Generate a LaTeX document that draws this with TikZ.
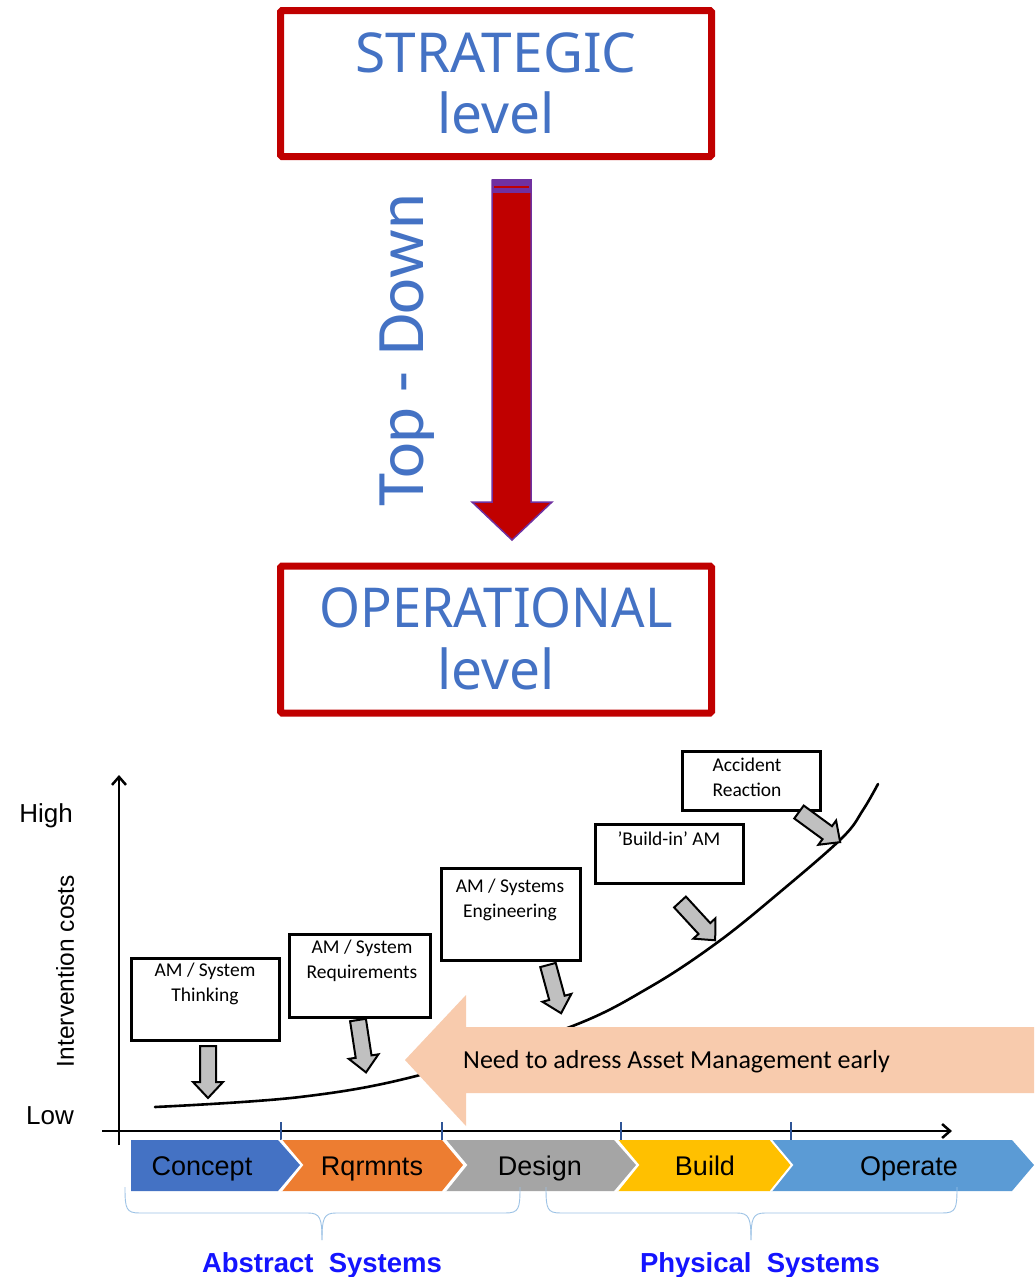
\documentclass[tikz,border=0pt]{standalone}
\usepackage{fontspec}
\setmainfont{Liberation Sans}
\newfontfamily\calib{Carlito}
\newfontfamily\notof{Noto Sans}
\usetikzlibrary{arrows.meta}
\definecolor{dred}{HTML}{C00000}
\definecolor{tblue}{HTML}{4472C4}
\definecolor{purp}{HTML}{7030A0}
\definecolor{peach}{HTML}{F8CBAD}
\definecolor{garr}{HTML}{C0C0C0}
\definecolor{cblue}{HTML}{4472C4}
\definecolor{corange}{HTML}{ED7D31}
\definecolor{cgray}{HTML}{A5A5A5}
\definecolor{cgold}{HTML}{FFC000}
\definecolor{clblue}{HTML}{5B9BD5}
\definecolor{brc}{HTML}{9DC3E6}
\definecolor{tickc}{HTML}{2F5597}
\definecolor{sysblue}{HTML}{1414FF}
\tikzset{
  levelbox/.style={draw=dred, line width=7pt, fill=white, rounded corners=1.5pt, anchor=north west, outer sep=0pt},
  leveltxt/.style={text=tblue, font=\notof\fontsize{55}{66}\selectfont, anchor=base, inner sep=0},
  stagebox/.style={draw=black, line width=3pt, fill=white, anchor=north west, outer sep=0pt},
  stagetxt/.style={font=\calib\fontsize{19.5}{24.5}\selectfont, align=center, anchor=north, inner sep=0},
  grayarr/.style={draw=black, line width=2pt, fill=garr, line join=miter},
  chev/.style={draw=white, line width=2pt},
  phasetxt/.style={font=\fontsize{27}{32}\selectfont, anchor=base, inner sep=0},
  brace/.style={draw=brc, line width=0.9pt},
  systxt/.style={font=\bfseries\fontsize{27.5}{32}\selectfont, text=sysblue, anchor=base, inner sep=0},
  axis/.style={line width=2.5pt, -{Straight Barb[length=8pt,width=14pt,line width=2.5pt]}},
}
\newcommand\grayarrow[4]{%
  \begin{scope}[shift={(#1,#2)}, rotate=#3]
    \draw[grayarr] (0,-8) -- (#4-16,-8) -- (#4-16,-15) -- (#4,0) -- (#4-16,15) -- (#4-16,8) -- (0,8) -- cycle;
  \end{scope}}
\begin{document}
\begin{tikzpicture}[x=1pt,y=-1pt]
\useasboundingbox[fill=white] (0,0) rectangle (1034,1277);

% level boxes
\node[levelbox, minimum width=431pt, minimum height=146pt] (strat) at (280.5,10.5) {};
\node[leveltxt] (strat1) at (496,72) {STRATEGIC};
\node[leveltxt] (strat2) at (496,133) {level};
\node[levelbox, minimum width=431pt, minimum height=147pt] (oper) at (280.5,566) {};
\node[leveltxt] (oper1) at (496,627) {\scalebox{0.955}[1]{OPERATIONAL}};
\node[leveltxt] (oper2) at (496,689) {level};

% red top-down arrow
\draw[fill=dred, draw=purp, line width=1.5pt, line join=miter]
  (492,180) -- (531,180) -- (531,502) -- (552,502) -- (512,540) -- (472,502) -- (492,502) -- cycle;
\fill[purp] (491.5,179) rectangle (531.5,193);
\draw[dred, line width=1.3pt] (494,187) -- (529,187);
\node[rotate=90, text=tblue, font=\calib\fontsize{68}{80}\selectfont, inner sep=0] (td) at (407,350) {Top - Down};

% curve
\draw[line width=2.6pt, line cap=round] plot[smooth, tension=0.6] coordinates {
  (155,1107) (300,1097) (420,1075) (570,1027) (650,987) (718,942) (780,892)
  (842,838) (863,810) (878,784)};

% axes
\draw[axis] (119,1145) -- (119,775);
\draw[axis] (102,1131) -- (952,1131);
\foreach \tx in {281,442,621,791}
  \draw[tickc, line width=2pt] (\tx,1122) -- (\tx,1140);
\node[font=\fontsize{26}{30}\selectfont, anchor=base] (high) at (46,822) {High};
\node[font=\fontsize{26}{30}\selectfont, anchor=base] (low) at (50,1124) {Low};
\node[rotate=90, font=\fontsize{24.5}{28}\selectfont, inner sep=0] (ic) at (65,971) {Intervention costs};

% stage boxes
\node[stagebox, minimum width=148pt, minimum height=82pt] (b1) at (131,958) {};
\node[stagetxt] (t1) at (205,963) {AM / System\\Thinking};
\node[stagebox, minimum width=141pt, minimum height=83pt] (b2) at (289,934) {};
\node[stagetxt] (t2) at (362,940) {AM / System\\Requirements};
\node[stagebox, minimum width=139pt, minimum height=92pt] (b3) at (441,868) {};
\node[stagetxt] (t3) at (510,879) {AM / Systems\\Engineering};
\node[stagebox, minimum width=148pt, minimum height=59pt] (b4) at (595,824) {};
\node[stagetxt] (t4) at (669,832) {’Build-in’ AM};
\node[stagebox, minimum width=138pt, minimum height=59pt] (b5) at (682,751) {};
\node[stagetxt] (t5) at (747,758) {Accident\\Reaction};

% gray arrows
\grayarrow{208}{1046}{-90}{52}
\grayarrow{358}{1020}{-81.3}{53}
\grayarrow{548}{965}{-74.8}{50}
\grayarrow{680}{902}{-47.4}{52}
\grayarrow{799}{812}{-36.2}{51}

% big peach arrow
\fill[peach] (1034,1027) -- (466,1027) -- (466,995) -- (405,1060) -- (466,1126) -- (466,1093) -- (1034,1093) -- cycle;
\node[font=\calib\fontsize{26}{30}\selectfont, anchor=base west, inner sep=0] (need) at (463,1068) {Need to adress Asset Management early};

% phases
\fill[cblue] (131,1140) -- (278,1140) -- (300,1165) -- (278,1191) -- (131,1191) -- cycle;
\fill[corange] (281,1140) -- (442,1140) -- (463,1165) -- (442,1191) -- (281,1191) -- (302,1165) -- cycle;
\draw[chev] (281,1140) -- (302,1165) -- (281,1191);
\fill[cgray] (445,1140) -- (614,1140) -- (636,1165) -- (614,1191) -- (445,1191) -- (466,1165) -- cycle;
\draw[chev] (445,1140) -- (466,1165) -- (445,1191);
\fill[cgold] (617,1140) -- (770,1140) -- (791,1165) -- (770,1191) -- (617,1191) -- (638,1165) -- cycle;
\draw[chev] (617,1140) -- (638,1165) -- (617,1191);
\fill[clblue] (771,1140) -- (1012,1140) -- (1034,1165) -- (1012,1191) -- (771,1191) -- (792,1165) -- cycle;
\draw[chev] (771,1140) -- (792,1165) -- (771,1191);
\node[phasetxt] (p1) at (202,1175) {Concept};
\node[phasetxt] (p2) at (372,1175) {Rqrmnts};
\node[phasetxt] (p3) at (540,1175) {Design};
\node[phasetxt] (p4) at (705,1175) {Build};
\node[phasetxt] (p5) at (909,1175) {Operate};

% braces
\draw[brace] (125,1187) .. controls (125,1209) and (126,1213) .. (140,1213) -- (308,1213) .. controls (320,1213) and (322,1218) .. (322,1240);
\draw[brace] (520,1187) .. controls (520,1209) and (519,1213) .. (505,1213) -- (336,1213) .. controls (324,1213) and (322,1218) .. (322,1240);
\draw[brace] (546,1187) .. controls (546,1209) and (547,1213) .. (561,1213) -- (737,1213) .. controls (749,1213) and (751,1218) .. (751,1240);
\draw[brace] (957,1187) .. controls (957,1209) and (956,1213) .. (942,1213) -- (765,1213) .. controls (753,1213) and (751,1218) .. (751,1240);
\node[systxt] (abs) at (322,1272) {Abstract\ \ Systems};
\node[systxt] (phy) at (760,1272) {Physical\ \ Systems};
\end{tikzpicture}
\end{document}
